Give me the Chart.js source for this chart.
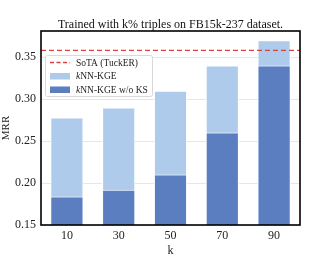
<!DOCTYPE html>
<html>
<head>
<meta charset="utf-8">
<script src="https://cdn.jsdelivr.net/npm/chart.js@4/dist/chart.umd.min.js"></script>
<style>
  html, body { margin: 0; padding: 0; background: #fff; }
  #wrap { width: 333px; height: 258px; }
</style>
</head>
<body>
<div id="wrap"><canvas id="chart"></canvas></div>
<script>
// Data
const kValues = ["10", "30", "50", "70", "90"];
const knnKge = [0.278, 0.290, 0.310, 0.340, 0.370];
const knnKgeNoKs = [0.184, 0.192, 0.210, 0.260, 0.340];
const sotaTucker = 0.358;
const yTicks = [0.15, 0.20, 0.25, 0.30, 0.35];
const titleText = "Trained with k% triples on FB15k-237 dataset.";

const LIGHT = "#aecbec";
const DARK = "#5b7ec1";
const SERIF = "'Liberation Serif', 'DejaVu Serif', serif";

// title centred over the plot, dashed SoTA line, black frame
const sotaLine = {
  id: "sotaLine",
  afterDatasetsDraw(chart) {
    const { ctx, chartArea: a, scales } = chart;
    const y = scales.y.getPixelForValue(sotaTucker);
    ctx.save();
    ctx.strokeStyle = "#e0413f";
    ctx.lineWidth = 1.3;
    ctx.setLineDash([5, 3]);
    ctx.beginPath();
    ctx.moveTo(a.left, y);
    ctx.lineTo(a.right, y);
    ctx.stroke();
    ctx.setLineDash([]);
    ctx.strokeStyle = "#000";
    ctx.lineWidth = 1.6;
    ctx.strokeRect(a.left, a.top, a.right - a.left, a.bottom - a.top);

    ctx.fillStyle = "#111";
    ctx.font = "12px " + SERIF;
    ctx.textAlign = "center";
    ctx.textBaseline = "middle";
    ctx.fillText(titleText, (a.left + a.right) / 2, a.top - 6);
    ctx.restore();
  },
};

// legend with the italic "k" like the original
const legendBox = {
  id: "legendBox",
  afterDraw(chart) {
    const { ctx, chartArea: a } = chart;
    const x0 = a.left + 4, y0 = a.top + 24, w = 107, h = 41;
    ctx.save();
    ctx.fillStyle = "rgba(255,255,255,0.85)";
    ctx.strokeStyle = "#d8d8d8";
    ctx.lineWidth = 1;
    ctx.beginPath();
    ctx.roundRect(x0 + 0.5, y0 + 0.5, w, h, 2);
    ctx.fill();
    ctx.stroke();

    const rows = [
      { kind: "line", parts: [["SoTA (TuckER)", false]] },
      { kind: LIGHT, parts: [["k", true], ["NN-KGE", false]] },
      { kind: DARK, parts: [["k", true], ["NN-KGE w/o KS", false]] },
    ];
    ctx.textBaseline = "middle";
    rows.forEach((r, i) => {
      const cy = y0 + 7.5 + i * 13.5;
      if (r.kind === "line") {
        ctx.strokeStyle = "#e0413f";
        ctx.lineWidth = 1.3;
        ctx.setLineDash([4, 2.5]);
        ctx.beginPath();
        ctx.moveTo(x0 + 5, cy);
        ctx.lineTo(x0 + 25, cy);
        ctx.stroke();
        ctx.setLineDash([]);
      } else {
        ctx.fillStyle = r.kind;
        ctx.fillRect(x0 + 5, cy - 3, 20, 6.5);
      }
      let tx = x0 + 31;
      ctx.fillStyle = "#222";
      r.parts.forEach(([txt, it]) => {
        ctx.font = (it ? "italic " : "") + "9.5px " + SERIF;
        ctx.fillText(txt, tx, cy + 0.5);
        tx += ctx.measureText(txt).width;
      });
    });
    ctx.restore();
  },
};

new Chart(document.getElementById("chart"), {
  type: "bar",
  data: {
    labels: kValues,
    datasets: [
      {
        label: "kNN-KGE w/o KS",
        data: knnKgeNoKs,
        backgroundColor: DARK,
        borderColor: "#ffffff",
        borderWidth: 1,
        order: 0,
      },
      {
        label: "kNN-KGE",
        data: knnKge,
        backgroundColor: LIGHT,
        borderColor: "#ffffff",
        borderWidth: 1,
        order: 1,
      },
    ],
  },
  options: {
    responsive: true,
    maintainAspectRatio: false,
    animation: false,
    layout: { padding: { top: 31, right: 33, left: 0, bottom: 0 } },
    datasets: { bar: { categoryPercentage: 1, barPercentage: 0.64 } },
    plugins: {
      legend: { display: false },
      tooltip: { enabled: false },
      title: { display: false },
    },
    scales: {
      x: {
        stacked: true,
        grid: { display: false, drawTicks: false },
        border: { display: false },
        ticks: { color: "#222", font: { family: SERIF, size: 12 }, padding: 4 },
        title: {
          display: true,
          text: "k",
          color: "#222",
          font: { family: SERIF, size: 12 },
          padding: { top: 0, bottom: 0 },
        },
        afterFit(s) { s.height = 33; },
      },
      y: {
        stacked: false,
        min: 0.15,
        max: 0.381,
        afterBuildTicks(s) { s.ticks = yTicks.map((v) => ({ value: v })); },
        grid: { color: "#e6e6e6", lineWidth: 1, drawTicks: false },
        border: { display: false },
        ticks: {
          color: "#222",
          font: { family: SERIF, size: 12 },
          padding: 5,
          callback: (v) => v.toFixed(2),
        },
        title: {
          display: true,
          text: "MRR",
          color: "#222",
          font: { family: SERIF, size: 11 },
          padding: { top: 0, bottom: 1 },
        },
        afterFit(s) { s.width = 41; },
      },
    },
  },
  plugins: [sotaLine, legendBox],
});
</script>
</body>
</html>
